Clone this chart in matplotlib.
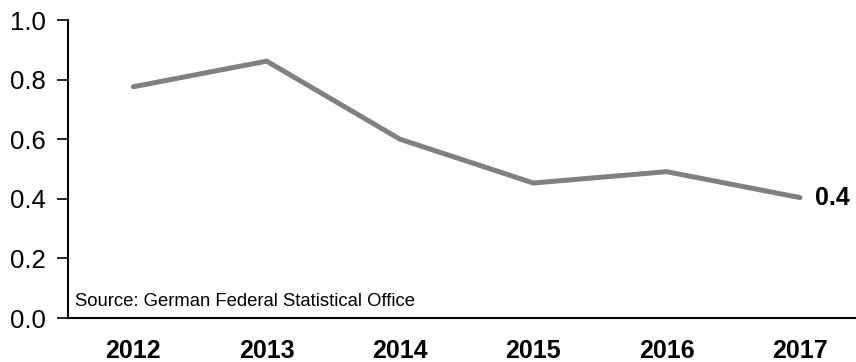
import matplotlib
matplotlib.use('Agg')
import matplotlib.pyplot as plt

plt.rcParams['font.family'] = ['Liberation Sans', 'DejaVu Sans']

years = [2012, 2013, 2014, 2015, 2016, 2017]
values = [0.776, 0.862, 0.600, 0.453, 0.491, 0.404]
yticks = [0.0, 0.2, 0.4, 0.6, 0.8, 1.0]

fig = plt.figure(figsize=(8.56, 3.62), dpi=100)
ax = fig.add_axes([68 / 856, 1 - 318 / 362, (856 - 68) / 856, 298 / 362])

ax.plot(years, values, color='#808080', linewidth=3.6, solid_capstyle='round')
ax.text(years[-1] + 0.11, values[-1], f'{values[-1]:.1f}', fontsize=18,
        fontweight='bold', va='center', ha='left')
ax.text(2011.56, 0.04, 'Source: German Federal Statistical Office', fontsize=13.3,
        va='baseline', ha='left')

ax.set_xlim(2011.51, 2017.42)
ax.set_ylim(0, 1.0)
ax.set_xticks(years)
ax.set_yticks(yticks)
ax.set_yticklabels([f'{v:.1f}' for v in yticks])
ax.tick_params(axis='y', length=8, width=1.2, labelsize=18.5, pad=8)
ax.tick_params(axis='x', length=0, labelsize=18, pad=15)
for lab in ax.get_xticklabels():
    lab.set_fontweight('bold')

for side in ['top', 'right']:
    ax.spines[side].set_visible(False)
ax.spines['left'].set_linewidth(1.5)
ax.spines['bottom'].set_linewidth(1.5)

fig.savefig('out.png', dpi=100)
